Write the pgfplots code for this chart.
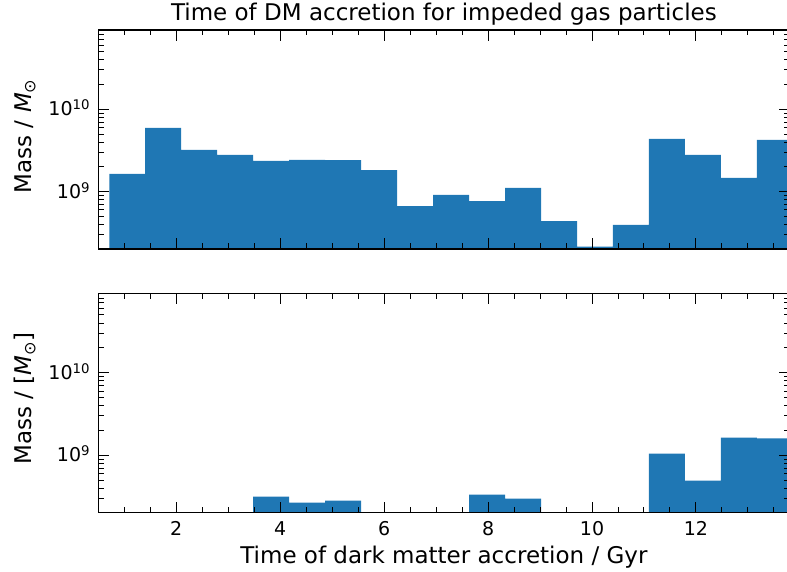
\documentclass[border=0pt]{standalone}
\usepackage{fontspec}
\setmainfont{DejaVu Sans}
\usepackage{pgfplots}
\pgfplotsset{compat=1.18}
\definecolor{c0}{RGB}{31,119,180}
\begin{document}
\begin{tikzpicture}[x=1pt,y=1pt]
\useasboundingbox (0,0) rectangle (787,-572);
\pgfplotsset{
  every axis/.append style={
    scale only axis, width=691.2pt,
    xmin=0.5, xmax=13.8,
    ymode=log, ymin=2.018e8, ymax=9.16e10,
    axis on top, tick align=inside, tick pos=both,
    xticklabel pos=lower, yticklabel pos=left,
    major tick length=11pt, minor tick length=5.5pt,
    tick style={black, line width=1pt},
    axis line style={black, line width=1.1pt},
    xtick={2,4,...,12},
    minor xtick={0.5,1,...,13.5},
    ytick={1e9,1e10},
    yticklabels={10\textsuperscript{9},10\textsuperscript{10}},
    minor ytick={3e8,4e8,5e8,6e8,7e8,8e8,9e8,2e9,3e9,4e9,5e9,6e9,7e9,8e9,9e9,2e10,3e10,4e10,5e10,6e10,7e10,8e10,9e10},
    /pgf/number format/assume math mode=true,
    tick label style={font=\fontsize{19}{22}\selectfont},
    yticklabel style={anchor=base east, inner sep=0pt, xshift=-8pt, yshift=-6.6pt},
    xticklabel style={anchor=north, inner sep=0pt, yshift=-9pt},
    label style={font=\fontsize{23}{27}\selectfont},
    title style={font=\fontsize{23}{27}\selectfont},
  }
}
\begin{axis}[at={(98.3pt,-249pt)}, anchor=south west, height=219pt,
  xticklabels={},
  every axis title shift=0pt,
  title={Time of DM accretion for impeded gas particles},
  title style={at={(axis description cs:0.5,1.0411)}, anchor=base, yshift=0pt},
  ylabel={Mass / \textit{M}\textsubscript{⊙}},
  ylabel style={at={(axis description cs:-0.0964,0.515)}, anchor=base},
]
\addplot[const plot, fill=c0, draw=none] coordinates {
(0.711,1.64e9) (1.403,5.93e9) (2.096,3.21e9) (2.788,2.79e9) (3.480,2.36e9)
(4.173,2.43e9) (4.865,2.41e9) (5.557,1.83e9) (6.249,6.70e8) (6.942,9.12e8)
(7.634,7.7e8) (8.326,1.11e9) (9.019,4.41e8) (9.711,2.15e8) (10.403,3.95e8)
(11.096,4.37e9) (11.788,2.79e9) (12.480,1.47e9) (13.172,4.24e9) (13.865,4.24e9)
} \closedcycle;
\end{axis}
\begin{axis}[at={(98.3pt,-512.7pt)}, anchor=south west, height=219.4pt,
  xlabel={Time of dark matter accretion / Gyr},
  xlabel style={at={(axis description cs:0.5,-0.2306)}, anchor=base},
  ylabel={Mass / [\textit{M}\textsubscript{⊙}]},
  ylabel style={at={(axis description cs:-0.0964,0.52)}, anchor=base},
]
\addplot[const plot, fill=c0, draw=none] coordinates {
(0.711,1) (1.403,1) (2.096,1) (2.788,1) (3.480,3.16e8)
(4.173,2.67e8) (4.865,2.82e8) (5.557,1) (6.249,1) (6.942,1)
(7.634,3.33e8) (8.326,2.98e8) (9.019,1) (9.711,1) (10.403,1)
(11.096,1.05e9) (11.788,4.93e8) (12.480,1.64e9) (13.172,1.60e9) (13.865,1.60e9)
} \closedcycle;
\end{axis}
\end{tikzpicture}
\end{document}
